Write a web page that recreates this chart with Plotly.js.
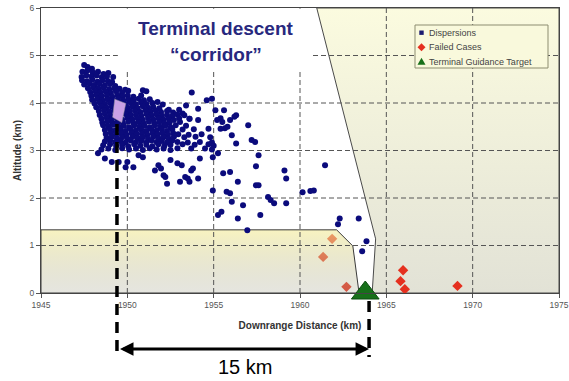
<!DOCTYPE html>
<html>
<head>
<meta charset="utf-8">
<script src="https://cdn.plot.ly/plotly-3.0.1.min.js"></script>
<style>html,body{margin:0;padding:0;background:#fff;}#chart{width:569px;height:381px;}</style>
</head>
<body>
<div id="chart"></div>
<script>
// ---- Data ----
const dispX = [
1947.50,1947.70,1947.95,
1947.40,1947.68,1948.00,1948.30,1948.62,1948.90,
1947.35,1947.62,1947.92,1948.22,1948.52,1948.82,1949.18,
1947.38,1947.68,1947.98,1948.28,1948.58,1948.88,1949.12,
1947.50,1947.80,1948.10,1948.40,1948.70,1949.00,1949.30,
1947.72,1948.02,1948.32,1948.62,1948.95,1949.25,1949.55,1949.88,
1947.85,1948.15,1948.45,1948.75,1949.05,1949.35,1949.70,1950.05,1950.90,1951.10,
1947.92,1948.22,1948.52,1948.82,1949.12,1949.42,1949.72,1950.02,1950.35,1950.80,
1947.96,1948.26,1948.56,1948.86,1949.16,1949.46,1949.76,1950.06,1950.36,1950.66,1950.96,1951.30,
1948.10,1948.40,1948.70,1949.00,1949.30,1949.60,1949.90,1950.20,1950.50,1950.80,1951.10,1951.45,1951.75,1952.05,
1948.20,1948.50,1948.80,1949.10,1949.40,1949.70,1950.00,1950.30,1950.60,1950.90,1951.20,1951.50,1951.85,1952.40,1953.00,1953.40,
1948.35,1948.65,1948.95,1949.25,1949.55,1949.85,1950.15,1950.45,1950.75,1951.05,1951.35,1951.65,1951.95,1952.30,1952.65,1953.20,1954.10,
1948.40,1948.70,1949.00,1949.30,1949.60,1949.90,1950.20,1950.50,1950.80,1951.10,1951.40,1951.70,1952.00,1952.30,1952.60,1952.90,1953.30,
1948.50,1948.80,1949.10,1949.40,1949.70,1950.00,1950.30,1950.60,1950.90,1951.20,1951.50,1951.80,1952.10,1952.40,1952.70,1953.00,1953.60,
1948.55,1948.85,1949.15,1949.45,1949.75,1950.05,1950.35,1950.65,1950.95,1951.25,1951.55,1951.85,1952.15,1952.45,1953.05,1954.10,
1948.60,1948.90,1949.20,1949.50,1949.80,1950.10,1950.40,1950.70,1951.00,1951.30,1951.60,1951.90,1952.20,1952.50,1952.80,1953.40,
1948.70,1949.00,1949.30,1949.60,1949.90,1950.20,1950.50,1950.80,1951.10,1951.40,1951.70,1952.00,1952.30,1952.60,1953.20,1953.85,1954.70,
1948.75,1949.05,1949.35,1949.65,1949.95,1950.25,1950.55,1950.85,1951.15,1951.45,1951.75,1952.05,1952.35,1952.65,1952.95,1953.55,1954.30,
1948.80,1949.10,1949.40,1949.70,1950.00,1950.30,1950.60,1950.90,1951.20,1951.50,1951.80,1952.10,1952.40,1952.70,1953.30,1953.95,1954.80,
1948.70,1949.00,1949.30,1949.60,1949.90,1950.20,1950.50,1950.80,1951.10,1951.40,1951.70,1952.00,1952.30,1952.60,1952.90,1953.50,1954.20,1954.90,
1948.60,1949.00,1949.35,1949.70,1950.05,1950.40,1950.75,1951.10,1951.45,1951.80,1952.15,1952.50,1953.20,1953.90,1954.70,1955.00,
1948.50,1948.90,1949.30,1949.70,1950.10,1950.50,1950.90,1951.30,1951.70,1952.10,1952.50,1952.90,1953.70,1954.50,1954.90,
1948.30,1948.70,1949.10,1949.50,1949.90,1950.35,1950.00,1950.65,1950.90,1951.60,1952.10,1952.30,1951.80,1952.50,1952.90,1953.15,1953.05,1953.35,1953.60,1953.70,
1954.10,1954.20,1954.95,1955.25,1954.95,1955.25,1955.45,1955.55,1955.95,1955.75,1955.95,1956.05,1956.40,1956.40,1956.70,1956.95,1957.45,1957.60,1957.45,1957.60,
1957.70,1958.15,1958.30,1958.50,1959.10,1959.20,1959.20,1960.15,1960.60,1960.80,1961.45,1962.30,1962.20,1963.40,1963.85,1963.60,1952.20,1953.50,1951.95,1953.80,
1957.00,1957.20,1957.40,1956.30,1955.95,1955.65,1955.40,1953.73,1954.60,1954.90,1955.10,1955.60,1956.20,1955.50,1955.20,1955.80,1955.40,1956.30,1956.05,1953.60
];
const dispY = [
4.80,4.76,4.72,
4.66,4.68,4.64,4.66,4.61,4.63,
4.55,4.58,4.56,4.58,4.54,4.56,4.55,
4.48,4.46,4.49,4.45,4.48,4.46,4.44,
4.39,4.41,4.38,4.40,4.37,4.40,4.36,
4.31,4.33,4.30,4.32,4.29,4.31,4.30,4.28,
4.23,4.25,4.22,4.24,4.21,4.25,4.22,4.26,4.27,4.25,
4.15,4.17,4.14,4.16,4.13,4.17,4.14,4.16,4.13,4.16,
4.07,4.09,4.06,4.08,4.05,4.09,4.06,4.08,4.05,4.09,4.06,4.08,
3.99,4.01,3.98,4.00,3.97,4.01,3.98,4.00,3.97,4.01,3.98,4.00,4.02,3.97,
3.91,3.93,3.90,3.92,3.89,3.93,3.90,3.92,3.89,3.93,3.90,3.92,3.89,3.86,3.86,3.95,
3.83,3.85,3.82,3.84,3.81,3.85,3.82,3.84,3.81,3.85,3.82,3.84,3.81,3.83,3.80,3.78,3.88,
3.75,3.77,3.74,3.76,3.73,3.77,3.74,3.76,3.73,3.77,3.74,3.76,3.73,3.75,3.72,3.76,3.74,
3.67,3.69,3.66,3.68,3.65,3.69,3.66,3.68,3.65,3.69,3.66,3.68,3.65,3.67,3.64,3.68,3.67,
3.59,3.61,3.58,3.60,3.57,3.61,3.58,3.60,3.57,3.61,3.58,3.60,3.57,3.59,3.60,3.64,
3.53,3.51,3.54,3.50,3.52,3.49,3.53,3.50,3.52,3.49,3.53,3.50,3.52,3.49,3.53,3.52,
3.43,3.45,3.42,3.44,3.41,3.45,3.42,3.44,3.41,3.45,3.42,3.44,3.41,3.45,3.44,3.45,3.46,
3.35,3.37,3.34,3.36,3.33,3.37,3.34,3.36,3.33,3.37,3.34,3.36,3.33,3.37,3.34,3.33,3.34,
3.27,3.29,3.26,3.28,3.25,3.29,3.26,3.28,3.25,3.29,3.26,3.28,3.25,3.29,3.28,3.29,3.28,
3.19,3.21,3.18,3.20,3.17,3.21,3.18,3.20,3.17,3.21,3.18,3.20,3.17,3.21,3.18,3.17,3.18,3.17,
3.11,3.13,3.10,3.12,3.09,3.13,3.10,3.12,3.09,3.13,3.10,3.12,3.13,3.12,3.13,3.10,
3.02,3.04,3.01,3.05,3.02,3.04,3.01,3.05,3.02,3.04,3.01,3.05,3.04,3.04,3.02,
2.94,2.83,2.76,2.76,2.65,2.65,2.76,2.90,2.86,2.58,2.48,2.30,2.69,2.80,2.73,2.69,2.34,2.44,2.34,2.58,
2.41,2.83,2.86,2.94,2.16,1.64,1.71,2.52,2.55,2.13,2.10,1.92,2.34,1.57,1.85,1.32,2.27,2.27,2.67,2.90,
1.64,2.02,1.96,1.89,2.58,2.41,1.89,2.12,2.15,2.16,2.69,1.57,1.45,1.57,1.09,0.88,2.44,2.41,2.62,2.62,
3.53,3.22,3.18,3.74,3.64,3.47,3.68,4.22,4.06,4.09,3.85,3.85,3.71,3.60,3.64,3.50,3.46,3.15,3.32,3.67
];
const failedX = [1961.86, 1961.34, 1962.69, 1965.97, 1965.82, 1966.07, 1969.12];
const failedY = [1.14, 0.76, 0.13, 0.48, 0.25, 0.08, 0.15];
const targetX = [1963.78];
const targetY = [0];

// Terminal descent corridor outline (km)
const lowBoxX = [1945, 1945, 1962.12, 1963.06, 1963.42, 1945];
const lowBoxY = [0, 1.33, 1.33, 0.99, 0, 0];
const farZoneX = [1960.97, 1964.38, 1964.18, 1975, 1975, 1960.97];
const farZoneY = [6, 1.14, 0, 0, 6, 6];

const xTicks = [1945, 1950, 1955, 1960, 1965, 1970, 1975];
const yTicks = [0, 1, 2, 3, 4, 5, 6];
const seriesNames = ['Dispersions', 'Failed Cases', 'Terminal Guidance Target'];
const spanStart = 1949.4, spanEnd = 1964.0; // 15 km span markers
const spanLabel = '15 km';

// ---- Build ----
const FONT = 'Arial, "Liberation Sans", sans-serif';
const gx = [], gy = [];
xTicks.slice(1, -1).forEach(v => { gx.push(v, v, null); gy.push(yTicks[0], yTicks[yTicks.length-1], null); });
yTicks.slice(1, -1).forEach(v => { gx.push(xTicks[0], xTicks[xTicks.length-1], null); gy.push(v, v, null); });

const traces = [
  { x: farZoneX, y: farZoneY, mode: 'lines', fill: 'toself', showlegend: false, hoverinfo: 'skip',
    line: { color: '#4a4a4a', width: 1 },
    fillgradient: { type: 'vertical', colorscale: [[0, '#e2e2d6'], [1, '#fbfbdf']] } },
  { x: failedX, y: failedY, mode: 'markers', name: seriesNames[1], showlegend: false,
    marker: { symbol: 'diamond', size: 8, color: '#e5301f' } },
  { x: lowBoxX, y: lowBoxY, mode: 'lines', fill: 'toself', showlegend: false, hoverinfo: 'skip',
    line: { color: '#3a3a3a', width: 1 },
    fillgradient: { type: 'vertical', colorscale: [[0, 'rgba(170,170,150,0.3)'], [1, 'rgba(243,235,150,0.6)']] } },
  { x: gx, y: gy, mode: 'lines', showlegend: false, hoverinfo: 'skip',
    line: { color: '#555', width: 1, dash: '5px,3px' } },
  { x: dispX, y: dispY, mode: 'markers', name: seriesNames[0], showlegend: false,
    marker: { symbol: 'circle', size: 6, color: '#0b0b7c' } },
  { x: targetX, y: targetY, mode: 'markers', name: seriesNames[2], showlegend: false, cliponaxis: false,
    marker: { symbol: 'triangle-up', size: 24, color: '#17701a', line: { color: '#0d4d10', width: 1 } } }
];

const pyToPaper = py => (293 - py) / 285;
const pxToPaper = px => (px - 41) / 518;

const legendRows = [32.7, 47.3, 61.7];
const legendShapes = [
  { path: 'M-2.2,-2.2H2.2V2.2H-2.2Z', color: '#1a1a70' },
  { path: 'M0,-4L4,0L0,4L-4,0Z', color: '#e5301f' },
  { path: 'M-4,-3L4,-3L0,4Z', color: '#17701a' }
];

const shapes = [
  // white backing behind the corridor title
  { type: 'rect', xref: 'x', yref: 'y', x0: 1949.45, x1: 1960.7, y0: 4.69, y1: 5.985, fillcolor: '#fff', line: { width: 0 }, layer: 'above' },
  // spacecraft glyph
  { type: 'path', xref: 'x', yref: 'y', path: 'M1949.27,4.08 L1949.91,3.99 L1949.68,3.59 L1949.15,3.70 Z',
    fillcolor: '#c9a0e6', line: { color: '#9a9a9a', width: 0.5 }, layer: 'above' },
  // dashed span markers
  { type: 'line', xref: 'x', yref: 'paper', x0: spanStart, x1: spanStart, y0: pyToPaper(124), y1: pyToPaper(357),
    line: { color: '#000', width: 3.5, dash: '11px,7px' }, layer: 'above' },
  { type: 'line', xref: 'x', yref: 'paper', x0: spanEnd, x1: spanEnd, y0: pyToPaper(301), y1: pyToPaper(357),
    line: { color: '#000', width: 3.5, dash: '11px,7px' }, layer: 'above' },
  // legend box
  { type: 'rect', xref: 'paper', yref: 'paper', x0: pxToPaper(415), x1: pxToPaper(548), y0: pyToPaper(68), y1: pyToPaper(25),
    fillcolor: '#f9f9dc', line: { color: '#8d8d70', width: 1 }, layer: 'above' }
];
legendShapes.forEach((s, i) => shapes.push({
  type: 'path', xref: 'paper', yref: 'paper', xsizemode: 'pixel', ysizemode: 'pixel',
  xanchor: pxToPaper(421.5), yanchor: pyToPaper(legendRows[i]), path: s.path,
  fillcolor: s.color, line: { width: 0 }, layer: 'above'
}));

const annotations = [
  { text: 'Terminal descent', x: 1955.12, y: pyToPaper(28.7), xref: 'x', yref: 'paper', yanchor: 'middle', showarrow: false,
    font: { family: FONT, size: 19, color: '#28287e', weight: 'bold' } },
  { text: '\u201Ccorridor\u201D', x: 1955.12, y: pyToPaper(54.5), xref: 'x', yref: 'paper', yanchor: 'middle', showarrow: false,
    font: { family: FONT, size: 19, color: '#28287e', weight: 'bold' } },
  { text: ' ', x: spanEnd, y: pyToPaper(349), xref: 'x', yref: 'paper', ax: spanStart, axref: 'x', ay: 0, ayref: 'pixel',
    showarrow: true, arrowside: 'end+start', arrowhead: 2, arrowsize: 0.9, arrowwidth: 3, arrowcolor: '#000',
    standoff: 0, startstandoff: 0 },
  { text: spanLabel, x: 1956.8, y: pyToPaper(367), xref: 'x', yref: 'paper', yanchor: 'middle', showarrow: false,
    font: { family: FONT, size: 20, color: '#000' } }
];
seriesNames.forEach((n, i) => annotations.push({
  text: n, x: pxToPaper(427), y: pyToPaper(legendRows[i]), xref: 'paper', yref: 'paper', xanchor: 'left', yanchor: 'middle',
  showarrow: false, font: { family: FONT, size: 9, color: '#444' }
}));

const layout = {
  width: 569, height: 381,
  margin: { l: 41, r: 10, t: 8, b: 88 },
  paper_bgcolor: '#fff', plot_bgcolor: '#fff',
  showlegend: false,
  font: { family: FONT },
  xaxis: {
    range: [xTicks[0], xTicks[xTicks.length-1]], tickvals: xTicks, showgrid: false, zeroline: false,
    ticks: 'outside', ticklen: 4, tickcolor: '#555', showline: true, mirror: true, linecolor: '#444',
    tickfont: { size: 8.5, color: '#555', family: FONT },
    title: { text: 'Downrange Distance (km)', standoff: 12, font: { size: 10, color: '#333', family: FONT, weight: 'bold' } }
  },
  yaxis: {
    range: [yTicks[0], yTicks[yTicks.length-1]], tickvals: yTicks, showgrid: false, zeroline: false,
    ticks: 'outside', ticklen: 4, tickcolor: '#555', showline: true, mirror: true, linecolor: '#444',
    tickfont: { size: 8.5, color: '#555', family: FONT },
    title: { text: 'Altitude (km)', standoff: 6, font: { size: 10, color: '#333', family: FONT, weight: 'bold' } }
  },
  shapes: shapes,
  annotations: annotations
};

Plotly.newPlot('chart', traces, layout, { displayModeBar: false, staticPlot: true });
</script>
</body>
</html>
